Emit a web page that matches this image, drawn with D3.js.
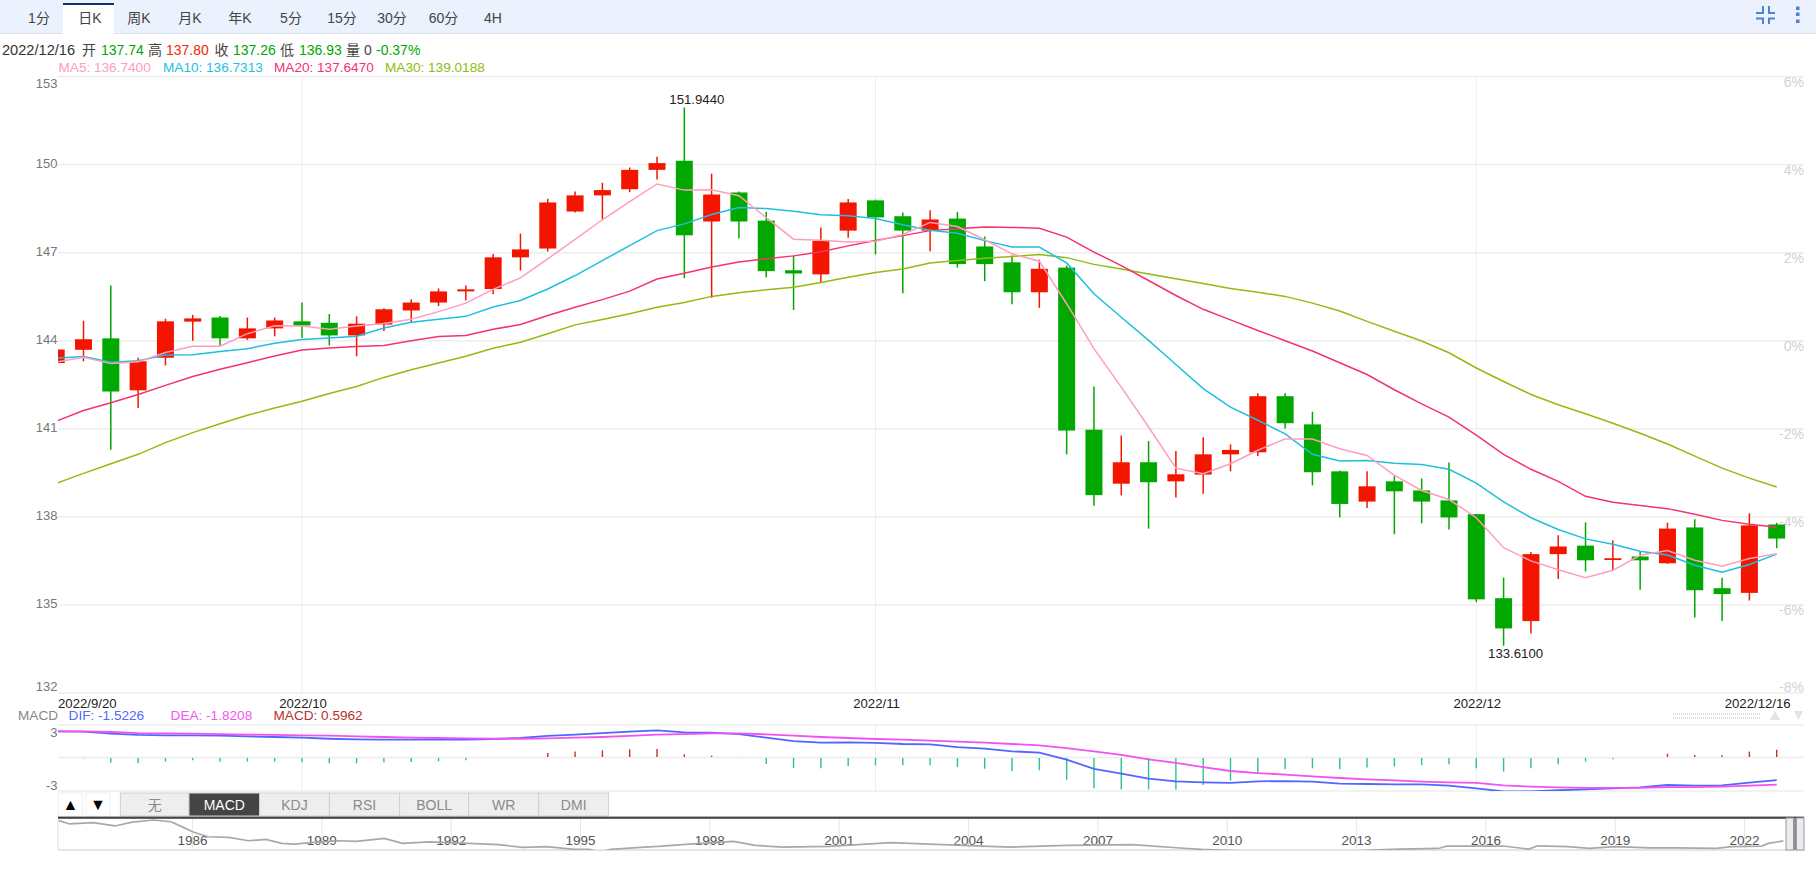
<!DOCTYPE html>
<html><head><meta charset="utf-8">
<script src="https://cdn.jsdelivr.net/npm/d3@7/dist/d3.min.js"></script>
<style>html,body{margin:0;padding:0;background:#fff;overflow:hidden}svg{display:block}text{font-family:"Liberation Sans","Noto Sans CJK SC",Arial,sans-serif}</style>
</head><body><svg id="c" width="1816" height="886"></svg>
<script>
const opens=[143.24,143.69,144.08,142.31,143.42,144.65,144.79,144.08,144.42,144.66,144.61,144.18,144.55,145.03,145.30,145.68,145.76,146.84,147.14,148.40,148.95,149.16,149.82,150.13,148.06,149.05,148.09,146.40,146.26,147.75,148.78,148.24,147.75,148.16,147.21,146.67,145.65,146.49,140.97,139.13,139.86,139.21,139.44,140.13,140.20,142.11,141.15,139.55,138.52,139.21,138.90,138.56,138.09,135.23,134.45,136.73,137.02,136.53,136.65,136.42,137.64,135.57,135.41,137.74];
const closes=[143.70,144.05,142.27,143.30,144.66,144.76,144.08,144.42,144.69,144.52,144.18,144.58,145.07,145.30,145.68,145.75,146.84,147.11,148.71,148.95,149.13,149.82,150.05,147.59,148.98,148.06,146.37,146.29,147.40,148.71,148.20,147.75,148.13,146.61,146.61,145.65,146.45,140.94,138.74,139.86,139.18,139.45,140.13,140.28,142.11,141.19,139.52,138.44,139.04,138.87,138.52,137.98,135.19,134.20,136.73,136.99,136.52,136.59,136.52,137.60,135.50,135.37,137.71,137.26];
const highs=[143.71,144.68,145.88,143.42,144.75,144.88,144.84,144.79,144.79,145.30,144.91,144.83,145.11,145.41,145.78,145.88,146.95,147.65,148.84,149.08,149.38,149.90,150.27,151.944,149.69,149.08,148.39,146.90,147.86,148.83,148.81,148.37,148.44,148.39,147.55,146.90,146.76,146.56,142.44,140.77,140.58,140.24,140.71,140.47,142.21,142.21,141.58,139.58,139.55,139.39,139.31,139.85,138.09,135.93,136.80,137.37,137.81,137.20,136.83,137.80,137.92,135.93,138.12,137.80];
const lows=[143.23,143.30,140.29,141.71,143.16,144.00,143.84,144.03,144.15,144.10,143.84,143.47,144.33,144.63,145.18,145.37,145.58,146.39,147.04,148.37,148.12,149.06,149.49,146.13,145.46,147.48,146.16,145.05,145.96,147.51,146.94,145.62,147.05,146.49,146.03,145.24,145.12,140.13,138.38,138.73,137.60,138.66,138.79,139.55,140.07,141.01,139.07,137.98,138.30,137.41,137.78,137.57,135.10,133.61,134.03,135.88,136.14,136.18,135.52,136.40,134.57,134.45,135.15,136.93];
const ma5=[143.27,143.44,143.22,143.28,143.60,143.81,143.81,144.24,144.51,144.50,144.39,144.50,144.59,144.73,144.99,145.28,145.75,146.14,146.79,147.45,148.12,148.74,149.34,149.13,149.14,148.94,148.19,147.46,147.42,147.36,147.39,147.62,148.03,147.89,147.44,146.96,146.71,145.26,143.73,142.42,141.06,139.66,139.47,139.81,140.27,140.65,140.65,140.32,140.09,139.41,138.90,138.59,137.97,136.95,136.50,136.20,135.93,136.18,136.69,136.85,136.52,136.32,136.58,136.74];
const ma10=[143.41,143.46,143.27,143.32,143.51,143.52,143.63,143.73,143.91,144.04,144.09,144.15,144.43,144.63,144.73,144.83,145.15,145.37,145.76,146.22,146.73,147.24,147.75,147.98,148.30,148.54,148.50,148.41,148.29,148.26,148.16,147.95,147.76,147.66,147.41,147.19,147.19,146.65,145.60,144.80,144.01,143.19,142.37,141.74,141.29,140.83,140.13,139.90,139.92,139.83,139.78,139.62,139.15,138.51,137.97,137.57,137.25,137.07,136.83,136.70,136.35,136.11,136.38,136.73];
const ma20=[141.26,141.62,141.89,142.17,142.48,142.78,143.03,143.25,143.48,143.68,143.75,143.80,143.84,144.00,144.14,144.18,144.39,144.55,144.86,145.14,145.40,145.69,146.10,146.30,146.51,146.68,146.79,146.89,147.03,147.23,147.41,147.58,147.75,147.81,147.87,147.86,147.83,147.53,147.02,146.56,146.05,145.54,145.07,144.71,144.35,144.00,143.65,143.25,142.85,142.33,141.85,141.40,140.78,140.13,139.62,139.21,138.70,138.50,138.39,138.28,138.09,137.88,137.75,137.65];
const ma30=[139.14,139.48,139.81,140.13,140.53,140.87,141.17,141.46,141.71,141.94,142.20,142.44,142.75,143.01,143.24,143.47,143.74,143.95,144.24,144.54,144.72,144.92,145.14,145.30,145.51,145.63,145.74,145.82,145.98,146.16,146.32,146.44,146.65,146.73,146.81,146.87,146.94,146.83,146.60,146.44,146.27,146.11,145.95,145.78,145.65,145.51,145.28,145.01,144.66,144.32,143.99,143.59,143.07,142.61,142.17,141.82,141.51,141.19,140.85,140.48,140.07,139.66,139.32,139.02];
const dif=[1.83,1.80,1.67,1.58,1.55,1.55,1.53,1.48,1.44,1.39,1.32,1.28,1.26,1.26,1.26,1.26,1.30,1.37,1.51,1.60,1.71,1.80,1.89,1.76,1.74,1.64,1.39,1.16,1.05,1.07,1.03,0.96,0.94,0.75,0.64,0.46,0.37,-0.11,-0.75,-1.07,-1.42,-1.60,-1.67,-1.71,-1.60,-1.58,-1.62,-1.76,-1.78,-1.80,-1.80,-1.89,-2.08,-2.28,-2.28,-2.21,-2.15,-2.08,-2.01,-1.85,-1.89,-1.87,-1.69,-1.52];
const dea=[1.83,1.83,1.78,1.71,1.69,1.67,1.64,1.60,1.58,1.55,1.53,1.48,1.44,1.39,1.37,1.35,1.32,1.32,1.35,1.39,1.44,1.51,1.60,1.64,1.69,1.69,1.62,1.53,1.44,1.37,1.30,1.26,1.19,1.12,1.05,0.96,0.87,0.68,0.46,0.21,-0.09,-0.34,-0.62,-0.89,-1.03,-1.14,-1.26,-1.37,-1.46,-1.53,-1.62,-1.67,-1.71,-1.87,-1.96,-2.01,-2.05,-2.05,-2.05,-1.99,-1.99,-1.96,-1.89,-1.82];
const macd=[0,-0.11,-0.46,-0.52,-0.38,-0.27,-0.38,-0.38,-0.38,-0.44,-0.52,-0.52,-0.44,-0.41,-0.36,-0.27,-0.08,0,0.33,0.46,0.55,0.63,0.66,0.22,0.11,-0.11,-0.57,-0.90,-0.93,-0.74,-0.68,-0.68,-0.68,-0.82,-0.96,-1.15,-1.09,-1.86,-2.57,-2.66,-2.66,-2.66,-2.30,-1.94,-1.28,-1.01,-0.93,-1.01,-0.87,-0.77,-0.68,-0.60,-0.93,-1.20,-0.93,-0.60,-0.38,-0.19,0,0.27,0.16,0.14,0.44,0.5962];
const priceTicks=[153,150,147,144,141,138,135,132];
const pctTicks=["6%","4%","2%","0%","-2%","-4%","-6%","-8%"];
const monthStarts=[9,30,52];
const dateLabels=["2022/10","2022/11","2022/12"];
const periods=["1分","日K","周K","月K","年K","5分","15分","30分","60分","4H"];
const indicators=["无","MACD","KDJ","RSI","BOLL","WR","DMI"];
const navYears=[1982.9,1983.15,1983.7,1984.2,1984.6,1985.1,1985.5,1985.75,1986,1986.36,1986.84,1987.3,1987.7,1988.07,1988.36,1988.8,1989.4,1989.8,1990.45,1990.87,1991.5,1991.95,1992.4,1993.1,1993.65,1994.2,1994.8,1995.2,1995.45,1995.7,1996.4,1996.8,1997.6,1998.55,1999.05,1999.7,2000.76,2002.2,2003.4,2004.95,2006.3,2007.8,2008.9,2009.4,2010.45,2011.5,2012.3,2013.3,2014,2014.9,2015.1,2015.7,2016.4,2017,2017.2,2017.9,2018.4,2019,2019.8,2020.4,2021.35,2021.7,2022.4,2022.55,2022.9];
const navValues=[237,222,228,213,230,240,232,210,187,164,161,146,152,134,131,139,146,143,157,134,141,137,134,128,116,119,108,107,95,107,116,120,132,143,125,117,120,137,128,117,125,128,113,107,99,90,88,104,108,111,122,122,122,108,123,119,111,119,114,114,111,119,122,134,145];
const navTicks=[1986,1989,1992,1995,1998,2001,2004,2007,2010,2013,2016,2019,2022];

const svg=d3.select("#c");
const L=58,R=1804;
const x=d3.scaleLinear().domain([0,63]).range([56.2,1776.7]);
const y=d3.scaleLinear().domain([132,153]).range([693,76.5]);
const my=d3.scaleLinear().domain([0,-1]).range([758,772.6]);
const hy=d3.scaleLinear().domain([0,-1]).range([757,769.2]);
const nx=d3.scaleLinear().domain([1982.88,2022.96]).range([58,1786]);
const ny=d3.scaleLinear().domain([240,104]).range([820,850]);
const GRID="#eeeeee",UP="#f41500",DOWN="#00a800";
const defs=svg.append("defs");
defs.append("clipPath").attr("id","main").append("rect").attr("x",L).attr("y",70).attr("width",R-L).attr("height",630);
defs.append("clipPath").attr("id","sub").append("rect").attr("x",L).attr("y",725).attr("width",R-L).attr("height",66);
defs.append("clipPath").attr("id","nav").append("rect").attr("x",L).attr("y",818).attr("width",R-L).attr("height",32);
function T(s,px,py,fill,size,anchor){return svg.append("text").attr("x",px).attr("y",py).attr("fill",fill).attr("font-size",size||13).attr("text-anchor",anchor||"start").attr("dominant-baseline","central").text(s);}

// top bar
svg.append("rect").attr("width",1816).attr("height",33).attr("fill","#ebf2fd");
svg.append("line").attr("x1",0).attr("x2",1816).attr("y1",33.5).attr("y2",33.5).attr("stroke","#d9e2ef");
svg.append("rect").attr("x",63).attr("y",3).attr("width",51).attr("height",31).attr("fill","#fff");
svg.append("rect").attr("x",63).attr("y",3).attr("width",51).attr("height",2).attr("fill","#14307c");
const tabCenters=[39,90,139,190,240,291,342,392,443.5,493];
periods.forEach((p,i)=>T(p,tabCenters[i],18,"#444",14,"middle"));
const ic="#4b82d4";
["M1756 13H1763V6","M1775 13H1769V6","M1756 18.5H1763V24","M1775 18.5H1769V24"].forEach(d=>svg.append("path").attr("d",d).attr("fill","none").attr("stroke",ic).attr("stroke-width",2));
[8,14,21].forEach(cy=>svg.append("rect").attr("x",1796).attr("y",cy-1.5).attr("width",3.5).attr("height",3.5).attr("fill",ic));

// info rows
const gt="#00a800",rt="#f42a00",dk="#444";
T("2022/12/16",2,50,"#333",14.6);
[["开",82,dk],["137.74",101,gt],["高",148,dk],["137.80",166,rt],["收",214.5,dk],["137.26",233,gt],["低",280,dk],["136.93",299,gt],["量",346,dk],["0",364,dk],["-0.37%",376,gt]].forEach(d=>T(d[0],d[1],50,d[2],14));
const maDefs=[["MA5",ma5,"#ff9dbd",58.5,"136.7400"],["MA10",ma10,"#1fbfdf",163,"136.7313"],["MA20",ma20,"#f5326f",274,"137.6470"],["MA30",ma30,"#93bb0f",385,"139.0188"]];
maDefs.forEach(d=>T(d[0]+": "+d[4],d[3],67,d[2],13.6));

// main grid
priceTicks.forEach(v=>svg.append("line").attr("x1",L).attr("x2",R).attr("y1",y(v)).attr("y2",y(v)).attr("stroke",GRID).attr("stroke-width",1.5));
monthStarts.forEach(i=>{
  svg.append("line").attr("x1",x(i)).attr("x2",x(i)).attr("y1",y(153)).attr("y2",y(132)).attr("stroke",GRID);
  svg.append("line").attr("x1",x(i)).attr("x2",x(i)).attr("y1",725).attr("y2",791).attr("stroke",GRID);
});
priceTicks.forEach((v,i)=>{
  const dy=i==0?6.5:(i==priceTicks.length-1?-6.5:-1);
  T(String(v),57.5,y(v)+dy,"#777",13,"end");
  const dp=i==priceTicks.length-1?-6.5:5;
  T(pctTicks[i],R,y(v)+dp,"#d2d2d2",14,"end");
});

// candles
const idx=d3.range(opens.length);
const gc=svg.append("g").attr("clip-path","url(#main)");
idx.forEach(i=>{
  const col=closes[i]>=opens[i]?UP:DOWN;
  gc.append("line").attr("x1",x(i)).attr("x2",x(i)).attr("y1",y(highs[i])).attr("y2",y(lows[i])).attr("stroke",col).attr("stroke-width",1.5);
  const t=y(Math.max(opens[i],closes[i])),b=y(Math.min(opens[i],closes[i]));
  gc.append("rect").attr("x",x(i)-8.5).attr("width",17).attr("y",t).attr("height",Math.max(1.5,b-t)).attr("fill",col);
});
const line=d3.line().x((d,i)=>x(i)).y(d=>y(d));
[maDefs[3],maDefs[2],maDefs[1],maDefs[0]].forEach(d=>gc.append("path").attr("d",line(d[1])).attr("fill","none").attr("stroke",d[2]).attr("stroke-width",1.5));
const hiI=highs.indexOf(d3.max(highs)),loI=lows.indexOf(d3.min(lows));
T(d3.max(highs).toFixed(4),x(hiI)-15,y(d3.max(highs))-8,"#222",13.2);
T(d3.min(lows).toFixed(4),x(loI)-15.5,y(d3.min(lows))+8,"#222",13.2);

// date labels
T("2022/9/20",L,703,"#222",13.2);
monthStarts.forEach((i,k)=>T(dateLabels[k],x(i)+1,703,"#222",13.2,"middle"));
T("2022/12/16",1790.7,703,"#222",13.2,"end");

// macd legend
T("MACD",18,715,"#888",13.6);
T("DIF: -1.5226",68.6,715,"#5568ff",13.6);
T("DEA: -1.8208",170.6,715,"#f455f0",13.6);
T("MACD: 0.5962",273.5,715,"#b5302f",13.6);
const dots=svg.append("g").attr("fill","#dddddd");
d3.range(0,44).forEach(c=>[713,717].forEach(py=>dots.append("rect").attr("x",1673+c*2).attr("y",py).attr("width",1).attr("height",2)));
svg.append("path").attr("d","M1770 720L1775 711L1780 720Z").attr("fill","#e3e3e3");
svg.append("path").attr("d","M1794 711L1803 711L1798.5 720Z").attr("fill","#e3e3e3");

// macd panel
[725,791].forEach(v=>svg.append("line").attr("x1",L).attr("x2",R).attr("y1",v).attr("y2",v).attr("stroke",GRID).attr("stroke-width",1.5));
svg.append("line").attr("x1",L).attr("x2",R).attr("y1",757.5).attr("y2",757.5).attr("stroke","#f0f0f0").attr("stroke-width",2);
T("3",57.5,732,"#777",13,"end");
T("-3",57.5,785,"#777",13,"end");
const gm=svg.append("g").attr("clip-path","url(#sub)");
idx.forEach(i=>{ if(macd[i]===0)return;
  const y1=hy(0),y2=hy(macd[i]);
  gm.append("line").attr("x1",x(i)).attr("x2",x(i)).attr("y1",macd[i]<0?758:y1).attr("y2",y2).attr("stroke",macd[i]<0?"#2cc196":"#c8341f").attr("stroke-width",1.4);
});
const mline=d3.line().x((d,i)=>x(i)).y(d=>my(d));
gm.append("path").attr("d",mline(dif)).attr("fill","none").attr("stroke","#5066ff").attr("stroke-width",1.8);
gm.append("path").attr("d",mline(dea)).attr("fill","none").attr("stroke","#f352f2").attr("stroke-width",1.8);

// arrows and indicator tabs
[[58,"▲"],[85.5,"▼"]].forEach(d=>{
  svg.append("rect").attr("x",d[0]+.5).attr("y",793).attr("width",24).attr("height",23).attr("fill","#fff").attr("stroke","#f0f0f0");
  T(d[1],d[0]+12.5,804.5,"#000",16,"middle");
});
const tabEdges=[120.4,189,259.6,329.4,399.6,468.6,538.8,608.6];
indicators.forEach((s,i)=>{
  const act=s==="MACD";
  svg.append("rect").attr("x",tabEdges[i]).attr("y",793).attr("width",tabEdges[i+1]-tabEdges[i]).attr("height",23).attr("fill",act?"#444":"#eeeeee").attr("stroke","#d0d0d0");
  T(s,(tabEdges[i]+tabEdges[i+1])/2,805,act?"#fff":"#8a8a8a",14,"middle");
});

// navigator
svg.append("line").attr("x1",L).attr("x2",R).attr("y1",850).attr("y2",850).attr("stroke","#dddddd").attr("stroke-width",1.5);
svg.append("line").attr("x1",L).attr("x2",L).attr("y1",818).attr("y2",850).attr("stroke","#dddddd");
navTicks.forEach(v=>{
  svg.append("line").attr("x1",nx(v)).attr("x2",nx(v)).attr("y1",818).attr("y2",850).attr("stroke","#e6e6e6");
  T(String(v),nx(v),840,"#555",13.5,"middle");
});
const nline=d3.line().x((d,i)=>nx(navYears[i])).y(d=>ny(d));
svg.append("g").attr("clip-path","url(#nav)").append("path").attr("d",nline(navValues)).attr("fill","none").attr("stroke","#a8a8a8").attr("stroke-width",1.7);
svg.append("rect").attr("x",L).attr("y",816.6).attr("width",R-L).attr("height",2.2).attr("fill","#444");
svg.append("rect").attr("x",1786).attr("y",818).attr("width",7.5).attr("height",32).attr("fill","#ebebeb").attr("stroke","#9a9aa8");
svg.append("rect").attr("x",1793.5).attr("y",818).attr("width",3).attr("height",32).attr("fill","#8f8f94");
svg.append("rect").attr("x",1796.5).attr("y",818).attr("width",7.5).attr("height",32).attr("fill","#ebebeb").attr("stroke","#9a9aa8");
</script></body></html>
